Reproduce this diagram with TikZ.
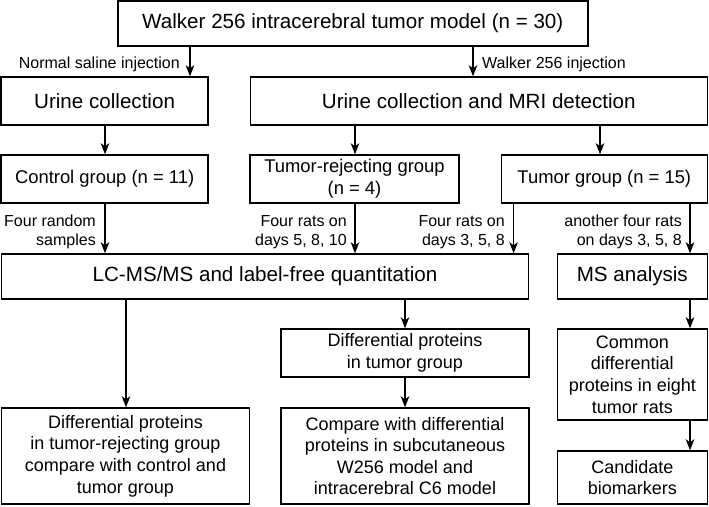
\documentclass[tikz,border=0pt]{standalone}
\usepackage{fontspec}
\setmainfont{Liberation Sans}
\usetikzlibrary{arrows.meta}
\tikzset{
  box/.style={draw, line width=1.4pt, inner sep=0pt, align=center, font=\fontsize{20.6}{22}\selectfont},
  grp/.style={box, font=\fontsize{18.4}{21.7}\selectfont},
  low/.style={box, font=\fontsize{18}{21.6}\selectfont},
  lbl/.style={inner sep=1pt, align=right, font=\fontsize{16}{18.5}\selectfont},
  arr/.style={line width=1.6pt, -{Stealth[length=11pt,width=8.5pt,inset=3pt]}}
}
\begin{document}
\begin{tikzpicture}[x=1pt,y=-1pt]
\useasboundingbox (0,0) rectangle (709,506);
\node[box, minimum width=470pt, minimum height=45pt] (top) at (352.8,23.5) {Walker 256 intracerebral tumor model (n = 30)};
\node[box, minimum width=207pt, minimum height=48pt] (urine) at (104.6,101) {Urine collection};
\node[box, minimum width=457pt, minimum height=48pt] (mri) at (478.8,101) {Urine collection and MRI detection};
\node[grp, minimum width=207pt, minimum height=48pt] (control) at (104.6,179) {Control group (n = 11)};
\node[grp, minimum width=209pt, minimum height=48pt] (reject) at (354.5,179) {Tumor-rejecting group\\(n = 4)};
\node[grp, minimum width=206pt, minimum height=48pt] (tumor) at (604.3,179) {Tumor group (n = 15)};
\node[box, minimum width=527pt, minimum height=45pt] (lcms) at (265,276.5) {LC-MS/MS and label-free quantitation};
\node[box, minimum width=150pt, minimum height=45pt] (ms) at (632.3,276.5) {MS analysis};
\node[low, minimum width=248pt, minimum height=48pt] (diff) at (405,353) {Differential proteins\\in tumor group};
\node[low, minimum width=150pt, minimum height=91pt] (common) at (632.3,374.5) {Common\\differential\\proteins in eight\\tumor rats};
\node[low, minimum width=248pt, minimum height=96pt] (bl) at (125.5,456) {Differential proteins\\in tumor-rejecting group\\compare with control and\\tumor group};
\node[low, minimum width=248pt, minimum height=96pt] (cmp) at (405,456) {Compare with differential\\proteins in subcutaneous\\W256 model and\\intracerebral C6 model};
\node[low, minimum width=150pt, minimum height=53pt] (cand) at (632.3,477.5) {Candidate\\biomarkers};

\draw[arr] (top.south -| 190,0) -- (urine.north -| 190,0);
\draw[arr] (top.south -| 473,0) -- (mri.north -| 473,0);
\draw[arr] (urine.south -| 105,0) -- (control.north -| 105,0);
\draw[arr] (mri.south -| 355,0) -- (reject.north -| 355,0);
\draw[arr] (mri.south -| 600,0) -- (tumor.north -| 600,0);
\draw[arr] (control.south -| 105,0) -- (lcms.north -| 105,0);
\draw[arr] (reject.south -| 355,0) -- (lcms.north -| 355,0);
\draw[arr] (tumor.south -| 513.6,0) -- (lcms.north -| 513.6,0);
\draw[arr] (tumor.south -| 690,0) -- (ms.north -| 690,0);
\draw[arr] (lcms.south -| 126,0) -- (bl.north -| 126,0);
\draw[arr] (lcms.south -| 405,0) -- (diff.north -| 405,0);
\draw[arr] (diff.south -| 405,0) -- (cmp.north -| 405,0);
\draw[arr] (ms.south -| 690,0) -- (common.north -| 690,0);
\draw[arr] (common.south -| 690,0) -- (cand.north -| 690,0);

\node[lbl, anchor=east] (l1) at (181,64) {Normal saline injection};
\node[lbl, anchor=west, align=left] (l2) at (481,64) {Walker 256 injection};
\node[lbl, anchor=east] (l3) at (97,232) {Four random\\samples};
\node[lbl, anchor=east] (l4) at (348,232) {Four rats on\\days 5, 8, 10};
\node[lbl, anchor=east] (l5) at (506,232) {Four rats on\\days 3, 5, 8};
\node[lbl, anchor=east] (l6) at (683,232) {another four rats\\on days 3, 5, 8};
\end{tikzpicture}
\end{document}
